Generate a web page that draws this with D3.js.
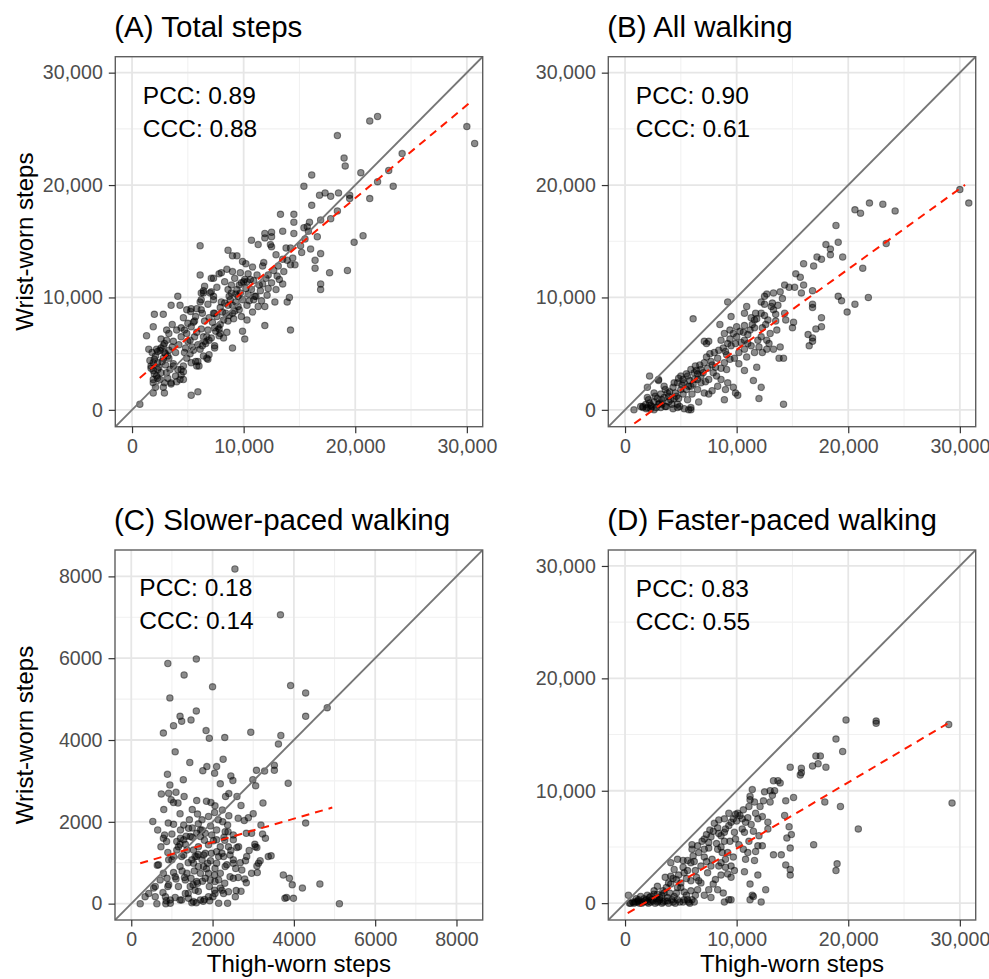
<!DOCTYPE html>
<html>
<head>
<meta charset="utf-8">
<script src="https://cdn.jsdelivr.net/npm/d3@7"></script>
<style>
  html, body { margin: 0; padding: 0; background: #ffffff; }
  svg { display: block; }
  text { font-family: "Liberation Sans", Arial, Helvetica, sans-serif; }
</style>
</head>
<body>
<script>
// ---------------- DATA ----------------
const panelTitles = ["(A) Total steps", "(B) All walking", "(C) Slower-paced walking", "(D) Faster-paced walking"];
const pccValues = ["0.89", "0.90", "0.18", "0.83"];
const cccValues = ["0.88", "0.61", "0.14", "0.55"];
const xAxisTitle = "Thigh-worn steps";
const yAxisTitle = "Wrist-worn steps";

const ticksLarge = [0, 10000, 20000, 30000];
const minorLarge = [5000, 15000, 25000];
const ticksSmall = [0, 2000, 4000, 6000, 8000];
const minorSmall = [1000, 3000, 5000, 7000];

// regression fits (dashed red): intercept, slope, x range
const fitIntercepts = [2270, -1815, 924, -1029];
const fitSlopes = [0.828, 0.7166, 0.288, 0.5886];
const fitRanges = [[690, 30200], [830, 30470], [221, 4945], [240, 28890]];

// points [thigh-worn, wrist-worn]
const totalSteps = [
[22000,26100],[21300,25700],[18400,24400],[30000,25200],[30700,23700],[24200,22800],[19000,22400],[19100,21700],[20500,21100],[23000,21300],[16100,20900],[22000,20300],[23400,19900],[15400,19900],[16800,19100],[17300,19300],[17800,19000],[18500,19300],[19500,19100],[19500,18800],[21300,18800],[16100,18200],[18400,17700],[17800,17000],[16900,16900],[13300,17400],[14500,17400],[14500,16700],[15900,16700],[15400,16200],[15700,16300],[16600,15400],[15800,15900],[14500,15700],[13500,15900],[10700,15100],[11300,14700],[11900,15700],[12500,15800],[12500,15400],[11900,15300],[12400,14700],[12500,14500],[15100,14600],[16000,14300],[16900,13900],[6100,14600],[13800,14400],[14200,14400],[8600,14200],[9000,13700],[9400,13700],[13500,13400],[12900,13800],[11800,13100],[11700,12800],[13900,13300],[14200,12900],[14600,12900],[16400,13300],[16400,12600],[17700,12200],[19300,12400],[16900,11200],[16900,10700],[19900,14900],[20700,15500],[6100,12000],[7300,11700],[7800,12100],[8500,12500],[9000,12300],[9900,13200],[10200,13000],[10800,12700],[9700,12200],[10600,11600],[10300,11400],[10900,11500],[11400,11100],[12500,11300],[13200,11600],[13500,11200],[12900,10700],[12100,10200],[12800,9600],[13900,9600],[14100,10000],[11900,9200],[11900,7500],[14200,7100],[11100,10100],[11300,9200],[10300,9300],[10300,8000],[10100,6300],[9900,7000],[9000,5500],[8500,6900],[8200,8000],[7800,7200],[7800,6600],[7400,5500],[6900,4900],[6700,4600],[6900,6200],[6600,5900],[6100,5400],[6400,6500],[5700,4300],[6000,3900],[5300,4200],[5900,1600],[5300,1300],[4300,2700],[4400,3600],[4600,3900],[3400,3600],[3700,4100],[3900,5100],[4700,5100],[5200,5000],[5200,6200],[4900,6800],[4400,7300],[4000,7100],[3100,7100],[3100,6200],[2800,5700],[3000,5000],[3300,4600],[2500,5300],[2200,5400],[1500,5400],[1800,5100],[1900,4200],[2300,4200],[1900,3500],[1700,3700],[1900,2700],[2200,3000],[2100,2000],[1900,1500],[2900,1500],[2800,2000],[2500,2700],[3100,3300],[3500,2300],[700,500],[1300,6600],[1900,7400],[2000,8500],[2800,8500],[3500,9300],[4100,10100],[4300,9300],[4900,8900],[5300,9000],[5500,7800],[6100,9600],[6200,10400],[6400,10600],[7000,10400],[7300,9800],[7300,8600],[7900,9100],[8600,9300],[8600,10700],[8900,10400],[9500,10100],[9300,9600],[9000,8600],[9600,8900],[9100,8100],[8600,7900],[7900,7600],[7400,7300],[7100,11700],[8000,12200],[6500,11000],[9600,11100],[9400,10700],[10000,11400],
[5250,8760],[6200,8900],[6300,8600],[7100,10500],[7300,10100],[6400,10400],[6200,9800],[8000,9600],[8700,10100],[9000,9300],[9200,8800],[9500,9200],[9900,9800],[9800,11300],[10200,10800],[10100,11600],[10700,10700],[11000,10100],[8900,11100],[8400,8600],[7400,8600],[7700,7400],[6800,7100],[6700,6500],[5600,7900],[5300,7400],[4700,7100],[4400,6500],[3700,6100],[2900,5900],[2600,5500],[2300,5200],[2900,5100],[3200,4800],[2800,4600],[2000,4500],[1700,3900],[2300,3600],[3700,3900],[4100,3600],[4600,3400],[4400,3100],[3200,2800],[2300,2800],[1900,2400],[2900,2400],[3500,2400],[4000,2500],[4600,2700],[5900,4300],[6400,4800],[5800,3900],[6800,4500],[7400,5700],[8200,6400],[7900,6800],[6500,6100],[5900,5800],[5000,6100],[5600,6500],[6500,7900],
[2000,3200],[2400,3800],[2700,4300],[3000,4000],[3300,5300],[3600,5600],[4200,5800],[4800,5500],[5400,5600],[5800,6900],[6200,7200],[6900,8200],[7200,7800],[7600,8300],[8100,8700],[8300,9500],[8800,9800],[9300,10300],[9700,10400],[10400,10300],[10500,9700],[10900,9800],[11500,10600],[11700,11200],[12200,12000],[12700,12400],[13100,12800],[12000,11700],[11200,12000],[10400,12100],[9200,11700],[8300,11400],[7600,10900],[6800,9400],[5800,9000],[5700,8300],[5000,7700],[4600,8200],[3600,7600],[3300,6800],[2600,6300],[2100,4800],[1600,4400],[2600,3300],[3900,3000],[4900,4600],[5500,5300],[6300,5700],[7100,6400],[7500,7000],[8700,8400],[9800,8300],[10800,8700],[11600,9700],[12200,10800],[13000,11900],[13600,12300],[14400,13500],[15200,14000],[15500,15200]
];

const allWalking = [
[30000,19600],[30800,18400],[21900,18400],[20600,17800],[21100,17500],[23100,18300],[24200,17700],[18900,16400],[19100,14900],[18000,14700],[18400,14300],[18400,13800],[19500,13600],[23400,14800],[21300,12600],[17200,13600],[17600,13400],[16900,12800],[16000,13000],[15300,12100],[15700,11800],[16000,11100],[15800,10400],[14300,11100],[14700,10900],[15200,10900],[16800,10600],[16800,9400],[16800,9100],[19100,10100],[19400,9700],[21800,10000],[20600,9400],[19900,8700],[17600,8200],[17100,7200],[17600,7400],[16400,6700],[16800,6400],[16800,6100],[16500,5700],[15100,7800],[15000,7300],[14300,8600],[14400,8000],[13500,8500],[14200,4600],[13800,4600],[13900,5600],[13300,5400],[13600,7100],[13000,6800],[12700,10300],[13300,10400],[13900,10500],[12200,9600],[12500,9400],[13200,9500],[12200,8600],[12500,8400],[11700,8600],[11600,8000],[11600,7300],[12200,6500],[12700,6200],[12000,5600],[12900,5900],[11800,3800],[11500,2600],[12200,2000],[12000,1000],[14200,500],[9200,9600],[6100,8100],[9500,8300],[8500,7600],[9400,7100],[10000,7400],[10700,7500],[10300,7000],[11200,7100],[7100,6100],[7300,5900],[7500,6100],[8900,6800],[8600,6200],[9200,5900],[9500,5700],[9900,5900],[10700,6200],[11000,5900],[10200,5100],[9800,4600],[10900,4700],[10200,4100],[10700,3500],[9400,4500],[8900,4200],[8600,3700],[9100,3600],[8300,4600],[8000,5100],[7700,4300],[7400,3700],[7100,4200],[6800,3600],[6500,3200],[6800,3000],[7200,2500],[7500,1400],[6600,700],[9000,1800],[9700,2000],[9900,1500],[10100,1300],[8900,900],[6200,2700],[5900,2100],[5500,1800],[5200,1400],[5600,900],[5900,0],[5700,0],[4700,500],[4300,100],[5200,2700],[4700,2400],[4300,2000],[3800,1500],[3500,1100],[3100,600],[2800,200],[2300,100],[1900,100],[1600,300],[800,0],[2200,3000],[3000,2700],[3500,2100],[2000,2000],[2600,1500],[2000,1100],[2200,600],[3200,200],[3700,300],[4100,900],[4600,1200],[6500,1800],[6800,2400],[7500,2700],[7900,3300],[6300,3900],[5900,3600],[5600,3000],[8600,2700],[9200,2400],[8300,2100],[7800,1700],[7100,1500],[10700,5400],[11600,5100],[11300,5700],[11900,6200],[12300,5100],[12700,5400],[10700,8600],[11300,8200],[10900,9200],[12500,10100],[13100,9200],[13500,7900],[12600,7600],
[1400,300],[1850,470],[2400,300],[3000,500],[3600,300],[4200,500],[2100,900],[2700,1200],[3300,900],[3900,1200],[4500,1500],[5000,1800],[3000,2600],[4800,2800],[5300,2400],[5700,2100],[6200,3300],[6500,2700],[5900,200],[5300,100],[4700,200],[2000,200],[1600,200],
[2300,400],[2600,700],[2900,1000],[3200,1400],[3600,1800],[4000,1600],[4400,1000],[4800,1000],[5100,2200],[5500,3200],[5800,2600],[6100,2300],[6400,3500],[6700,4000],[7000,3300],[7300,4700],[7600,5000],[7800,4000],[8100,3800],[8400,5300],[8800,5500],[9100,4900],[9400,6300],[9700,6800],[10000,6500],[10400,6000],[10600,6900],[11000,6700],[11400,7600],[11800,8100],[12300,7300],[12800,8000],[13300,8900],[13700,9300],[14100,9900],[9000,5200],[8200,3000],[6000,1400],[4900,300],[3300,500],[2600,0],[3900,700],[4400,2400],[5000,3000]
];

const slowerWalking = [
[2550,8180],[3670,7060],[900,5870],[1600,5980],[1300,5590],[2000,5300],[950,5030],[3920,5330],[4290,5150],[4820,4790],[4290,4580],[1600,4710],[1200,4580],[1240,4460],[1470,4490],[1040,4350],[790,4170],[1840,4230],[1920,4040],[2300,4060],[2940,4190],[3680,4110],[3620,3900],[1080,3710],[1440,3450],[2260,3530],[1860,3350],[1760,3250],[2100,3350],[2050,3190],[890,3160],[1280,3030],[2450,3120],[2500,3010],[2190,2930],[3080,3260],[3280,3240],[3520,3260],[3520,3380],[2990,3030],[3060,2880],[3860,2940],[950,2900],[740,2680],[920,2700],[1100,2720],[1300,2620],[2400,2690],[2320,2620],[2600,2620],[980,2540],[1040,2470],[1150,2460],[1610,2520],[1850,2500],[1960,2470],[2060,2390],[3240,2460],[2240,2290],[2050,2230],[530,2010],[910,1970],[1040,1940],[1290,1920],[1430,2050],[1630,2190],[1740,2050],[1900,2130],[2140,2050],[2400,2150],[2370,1920],[2630,2090],[2780,2030],[2880,2100],[3190,1920],[4290,1970],[640,940],[790,1600],[820,1680],[730,1390],[870,1520],[1120,1520],[1210,1600],[1330,1450],[1500,1620],[1700,1800],[1820,1720],[1900,1440],[2020,1540],[2190,1390],[2280,1620],[2380,1760],[2510,1680],[2600,1370],[2830,1720],[2960,1720],[3040,1450],[3090,1370],[3230,1700],[3370,1150],[3440,1170],[3170,1050],[3090,920],[3100,760],[2810,1050],[2680,1000],[2570,860],[2430,660],[2630,640],[2790,600],[2830,510],[2560,170],[2580,320],[2370,10],[2150,10],[2010,170],[1930,70],[1770,60],[1600,20],[1490,20],[1410,130],[1240,90],[1080,150],[960,10],[850,0],[860,70],[630,0],[590,170],[340,170],[220,0],[550,380],[780,270],[900,420],[880,620],[710,580],[1040,760],[1200,910],[1310,640],[1370,740],[1470,620],[1520,460],[1630,500],[1700,740],[1820,620],[1940,580],[1920,420],[2050,330],[2190,380],[2270,250],[2190,740],[2060,860],[2100,990],[1880,990],[1740,1070],[1610,1150],[1490,1070],[1290,1190],[1120,1310],[1000,1070],[1370,1310],[1530,1310],[1650,1390],[1780,1190],[1970,1230],[2100,1270],[2270,1150],[2430,1190],[2510,1070],[2350,950],[1700,1640],[1610,1720],[1410,1840],[1210,1800],[3740,700],[3890,620],[3960,460],[4210,380],[4640,480],[3780,130],[3820,150],[3990,130],[5120,0],[2150,580],
[1570,1150],[1530,990],[1650,910],[1330,580],[1450,420],[1610,540],[1080,660],[920,460],[840,170],[960,90],[1200,90],[1530,50],[1700,90],[1900,170],[2060,250],[2230,330],[2390,290],[2060,540],[2310,910],[2230,1230],[2390,1390],[2100,1560],[1980,1680],[2310,1760],[2510,1560],[2640,1390],[2510,990],[2720,820],[2840,1150],[3050,1390],[3130,990],[2960,740],[2510,620],[920,1070],[670,950],[790,740],[590,420],[430,250],[1040,1150],[1160,1390],[1290,1560],[1450,1640],[1740,1800],[1240,1150],[1820,1230],[1780,910],[1900,740],[1570,330],[1330,250],[1160,420],
[1100,600],[1250,800],[1400,1000],[1550,800],[1650,1200],[1750,550],[1850,850],[1950,1050],[2050,700],[2150,1150],[2300,1550],[2450,1300],[1200,1450],[1350,1650],[1500,1850],[1650,1950],[1800,1550],[1950,1900],[2100,1800],[2250,2000],[900,1250],[1000,1700],[1400,250],[1650,300],[1800,100],[2300,500],[2700,300],[2900,1300],[3300,1600],[3000,2200],[2700,2400],[1500,2300],[1200,2200],[800,2300],[650,1800]
];

const fasterWalking = [
[29000,15900],[29300,8900],[19800,16300],[22500,16200],[22500,16000],[18900,14600],[19500,13500],[17100,13100],[17500,13100],[17300,12400],[16800,12200],[18000,12100],[14800,12100],[15800,12000],[15800,11600],[15700,11400],[13300,10900],[13700,10900],[13900,10700],[13000,10000],[13400,10000],[11400,10100],[11200,9500],[11200,9200],[12400,9100],[13200,9600],[14400,9100],[15100,9400],[17900,9000],[19300,8600],[20900,6600],[16900,5200],[19000,3500],[18900,2900],[14700,6800],[14900,6100],[14500,5800],[14800,4900],[14300,7800],[14000,4300],[13300,4300],[14400,3400],[14800,3000],[14800,2500],[12800,7200],[12800,6600],[12100,8600],[11700,8000],[11900,7500],[11300,7000],[11500,6400],[12000,6000],[11900,5100],[12300,5100],[11700,4600],[11000,4500],[11600,3800],[10700,2800],[11900,2500],[11200,1700],[12600,1200],[11400,700],[11500,600],[11200,300],[12200,100],[10100,8000],[9900,7900],[10000,7300],[10500,7500],[10800,7200],[11000,7600],[8900,7500],[8400,7400],[9000,6600],[9800,6300],[9400,5500],[9900,5700],[10200,5200],[8300,6700],[7900,6400],[8400,6200],[8600,6000],[7100,5700],[7500,5400],[6500,5100],[6000,5200],[6000,4800],[5200,3800],[5600,3800],[4700,3900],[7500,4900],[8300,4800],[8700,4500],[9200,4500],[9000,3900],[8600,3600],[9500,3300],[9000,3200],[8600,2500],[9200,2600],[9500,2300],[8100,2100],[7900,1700],[8300,1200],[7700,500],[8900,100],[9300,300],[9500,300],[7700,3300],[7100,4100],[6800,3300],[6300,2900],[5900,3600],[6400,2300],[5900,2000],[6800,1800],[6500,1200],[7100,700],[5900,1100],[6000,300],[5700,100],[5500,700],[5200,100],[4700,300],[4300,100],[3800,500],[3400,100],[2900,100],[2500,200],[2000,100],[1600,100],[1100,100],[700,100],[300,700],[400,0],[800,0],[1300,0],[1700,400],[2000,700],[2600,800],[3100,500],[3500,900],[3700,1400],[4100,1700],[4000,900],[4600,900],[5000,1400],[4600,2100],[4100,2400],[3600,2300],[4400,3000],[4100,3600],[5300,2700],[5500,2200],[5000,1800],[2900,1500],[2600,1100],[2300,100],[5600,300],[6300,700],[4700,1400],[7400,2700],[7800,3900],[7100,4800],[7700,5900],[8900,6300],[9500,7200],[9300,8000],[10500,6600],[10700,6300],[11100,5500],[10800,3900],
[500,0],[900,100],[1200,200],[1500,0],[1800,200],[2100,0],[2400,300],[2700,0],[3000,200],[3300,0],[3600,200],[3900,0],[4200,300],[4500,0],[4900,100],[5300,300],[5800,0],[6200,100],[1000,400],[1400,600],[2200,500],[2800,400],[3300,700],[3800,200],
[1200,300],[1900,300],[2300,600],[2900,800],[3400,1100],[3900,1800],[4300,2200],[4800,2500],[5200,3200],[5600,2900],[6100,4200],[6600,4500],[6900,5500],[7300,6100],[7600,6500],[8000,7100],[8200,5300],[8600,5000],[8900,5500],[9300,6900],[9700,7500],[10300,7800],[10600,8300],[11100,8600],[11600,9000],[12500,9900],[13000,9000],[12300,7700],[10600,4800],[9700,4100],[8400,3300],[7300,3700],[6200,3700],[5300,1000],[4400,600],[3100,300],[6600,2000],[7500,1200],[8800,900],[9800,2900]
];

const panelPoints = [totalSteps, allWalking, slowerWalking, fasterWalking];

// ---------------- LAYOUT ----------------
const W = 989, H = 979;
const panelBoxes = [
  {x: 115.3, y: 56.7, w: 367.4, h: 370},
  {x: 608.3, y: 56.7, w: 367.4, h: 370},
  {x: 115.0, y: 550.0, w: 367.7, h: 370},
  {x: 608.3, y: 550.0, w: 367.4, h: 370}
];
const domainsLarge = [-1500, 31420];
const domainsSmall = [-400, 8645];
const annotOffsets = [[27.5, 47.5], [27.5, 47.0], [24.3, 45.7], [27.5, 47.3]];

const svg = d3.select("body").append("svg")
  .attr("width", W).attr("height", H)
  .attr("viewBox", `0 0 ${W} ${H}`);
svg.append("rect").attr("width", W).attr("height", H).attr("fill", "#ffffff");

const fmtComma = d3.format(",");
const fmtPlain = d3.format("d");

panelBoxes.forEach((b, i) => {
  const small = (i === 2);
  const dom = small ? domainsSmall : domainsLarge;
  const ticks = small ? ticksSmall : ticksLarge;
  const minors = small ? minorSmall : minorLarge;
  const fmt = small ? fmtPlain : fmtComma;

  const x = d3.scaleLinear().domain(dom).range([b.x, b.x + b.w]);
  const y = d3.scaleLinear().domain(dom).range([b.y + b.h, b.y]);

  const g = svg.append("g");
  const clipId = "clip" + i;
  svg.append("clipPath").attr("id", clipId).append("rect")
    .attr("x", b.x).attr("y", b.y).attr("width", b.w).attr("height", b.h);

  g.append("rect").attr("x", b.x).attr("y", b.y).attr("width", b.w).attr("height", b.h).attr("fill", "#ffffff");

  // grid
  const grid = g.append("g");
  minors.forEach(v => {
    grid.append("line").attr("x1", x(v)).attr("x2", x(v)).attr("y1", b.y).attr("y2", b.y + b.h)
      .attr("stroke", "#F1F1F1").attr("stroke-width", 1.1);
    grid.append("line").attr("y1", y(v)).attr("y2", y(v)).attr("x1", b.x).attr("x2", b.x + b.w)
      .attr("stroke", "#F1F1F1").attr("stroke-width", 1.1);
  });
  ticks.forEach(v => {
    grid.append("line").attr("x1", x(v)).attr("x2", x(v)).attr("y1", b.y).attr("y2", b.y + b.h)
      .attr("stroke", "#E6E6E6").attr("stroke-width", 1.8);
    grid.append("line").attr("y1", y(v)).attr("y2", y(v)).attr("x1", b.x).attr("x2", b.x + b.w)
      .attr("stroke", "#E6E6E6").attr("stroke-width", 1.8);
  });

  const plot = g.append("g").attr("clip-path", `url(#${clipId})`);
  // points
  plot.append("g").selectAll("circle").data(panelPoints[i]).join("circle")
    .attr("cx", d => x(d[0])).attr("cy", d => y(d[1])).attr("r", 3.2)
    .attr("fill", "rgba(0,0,0,0.45)")
    .attr("stroke", "rgba(0,0,0,0.45)").attr("stroke-width", 1.1);

  // identity line
  plot.append("line")
    .attr("x1", x(dom[0])).attr("y1", y(dom[0]))
    .attr("x2", x(dom[1])).attr("y2", y(dom[1]))
    .attr("stroke", "#767676").attr("stroke-width", 1.9);

  // fit line
  const fr = fitRanges[i];
  plot.append("line")
    .attr("x1", x(fr[0])).attr("y1", y(fitIntercepts[i] + fitSlopes[i] * fr[0]))
    .attr("x2", x(fr[1])).attr("y2", y(fitIntercepts[i] + fitSlopes[i] * fr[1]))
    .attr("stroke", "#FF1A00").attr("stroke-width", 2)
    .attr("stroke-dasharray", "8,6");

  // border
  g.append("rect").attr("x", b.x).attr("y", b.y).attr("width", b.w).attr("height", b.h)
    .attr("fill", "none").attr("stroke", "#5e5e5e").attr("stroke-width", 1.4);

  // axes
  const xAxis = d3.axisBottom(x).tickValues(ticks).tickFormat(fmt).tickSize(6.5).tickPadding(6);
  const yAxis = d3.axisLeft(y).tickValues(ticks).tickFormat(fmt).tickSize(6.5).tickPadding(6);
  const gx = g.append("g").attr("transform", `translate(0,${b.y + b.h})`).call(xAxis);
  const gy = g.append("g").attr("transform", `translate(${b.x},0)`).call(yAxis);
  [gx, gy].forEach(ax => {
    ax.select(".domain").remove();
    ax.selectAll(".tick line").attr("stroke", "#333333").attr("stroke-width", 1.2);
    ax.selectAll(".tick text").attr("fill", "#4D4D4D").style("font-size", "19.6px")
      .style("font-family", '"Liberation Sans", Arial, Helvetica, sans-serif');
  });

  // title
  svg.append("text").attr("x", b.x - 1).attr("y", b.y - 20)
    .style("font-size", "29.5px").attr("fill", "#000").text(panelTitles[i]);

  // annotation
  const ao = annotOffsets[i];
  svg.append("text").attr("x", b.x + ao[0]).attr("y", b.y + ao[1])
    .style("font-size", "24.5px").attr("fill", "#000").text("PCC: " + pccValues[i]);
  svg.append("text").attr("x", b.x + ao[0]).attr("y", b.y + ao[1] + 33)
    .style("font-size", "24.5px").attr("fill", "#000").text("CCC: " + cccValues[i]);

  // axis titles
  if (i === 0 || i === 2) {
    svg.append("text")
      .attr("transform", `translate(33,${b.y + b.h / 2}) rotate(-90)`)
      .attr("text-anchor", "middle").style("font-size", "24px").attr("fill", "#000")
      .text(yAxisTitle);
  }
  if (i === 2 || i === 3) {
    svg.append("text").attr("x", b.x + b.w / 2).attr("y", b.y + b.h + 51.5)
      .attr("text-anchor", "middle").style("font-size", "24px").attr("fill", "#000")
      .text(xAxisTitle);
  }
});
</script>
</body>
</html>
